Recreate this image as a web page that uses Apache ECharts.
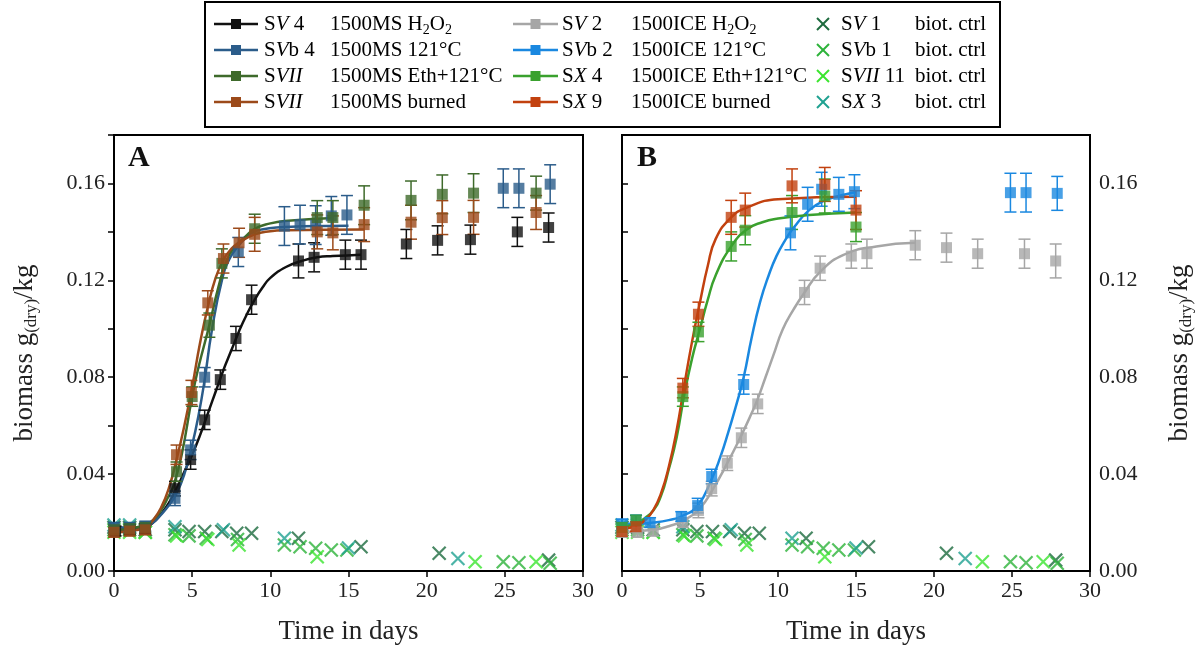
<!DOCTYPE html>
<html>
<head>
<meta charset="utf-8">
<title>biomass growth</title>
<script src="https://cdn.jsdelivr.net/npm/echarts@6/dist/echarts.min.js"></script>
<style>
  html, body { margin: 0; padding: 0; background: #fff; }
  #main { width: 1201px; height: 645px; }
</style>
</head>
<body>
<div id="main"></div>
<script type="text/javascript">
var FONT = 'Liberation Serif';

// ---- panel A : 1500MS ----
var aBlackDays = [0.1, 1, 2, 3.9, 4.9, 5.8, 6.8, 7.8, 8.8, 11.8, 12.8, 14.8, 15.8, 18.7, 20.7, 22.8, 25.8, 27.8];
var aBlackVals = [0.0165, 0.017, 0.0175, 0.034, 0.046, 0.0624, 0.079, 0.096, 0.112, 0.128, 0.1295, 0.1306, 0.1306, 0.135, 0.1365, 0.1368, 0.140, 0.1418];
var aBlackErr  = [0.002, 0.002, 0.002, 0.003, 0.004, 0.004, 0.004, 0.005, 0.006, 0.007, 0.006, 0.006, 0.006, 0.006, 0.006, 0.006, 0.006, 0.006];
var aBlackFitX = [0, 1, 2, 2.5, 3, 3.5, 4, 4.5, 5, 5.5, 6, 6.5, 7, 7.5, 8, 8.5, 9, 9.5, 10, 11, 12, 13, 14, 15.8];
var aBlackFitY = [0.017, 0.0172, 0.018, 0.020, 0.0235, 0.028, 0.034, 0.041, 0.048, 0.056, 0.065, 0.074, 0.083, 0.091, 0.099, 0.106, 0.112, 0.117, 0.121, 0.1255, 0.128, 0.1295, 0.130, 0.1306];

var aBlueDays = [0, 1, 2, 3.9, 4.9, 5.8, 7.95, 10.9, 11.9, 12.9, 13.9, 14.9, 24.9, 25.9, 27.9];
var aBlueVals = [0.018, 0.018, 0.0185, 0.030, 0.050, 0.080, 0.1317, 0.1424, 0.143, 0.1428, 0.1466, 0.147, 0.158, 0.158, 0.1597];
var aBlueErr  = [0.002, 0.002, 0.002, 0.003, 0.004, 0.004, 0.006, 0.008, 0.008, 0.008, 0.008, 0.008, 0.008, 0.008, 0.008];
var aBlueFitX = [0, 1, 2, 2.5, 3, 3.5, 4, 4.5, 5, 5.4, 5.8, 6.25, 6.9, 7.4, 8, 8.7, 9.45, 10.9, 12, 15];
var aBlueFitY = [0.018, 0.018, 0.0185, 0.020, 0.0232, 0.027, 0.032, 0.040, 0.052, 0.064, 0.079, 0.099, 0.120, 0.129, 0.1345, 0.139, 0.141, 0.142, 0.1423, 0.1425];

var aGreenDays = [0, 1, 2, 4, 5.0, 6.1, 6.9, 9.0, 13.0, 14.0, 16.0, 19.0, 21.0, 23.0, 27.0];
var aGreenVals = [0.017, 0.0175, 0.018, 0.041, 0.072, 0.1015, 0.127, 0.1413, 0.1459, 0.1459, 0.151, 0.153, 0.1555, 0.156, 0.156];
var aGreenErr  = [0.002, 0.002, 0.002, 0.004, 0.004, 0.005, 0.006, 0.006, 0.007, 0.007, 0.008, 0.008, 0.008, 0.008, 0.007];
var aGreenFitX = [0, 1, 2, 2.5, 3, 3.5, 3.8, 4.33, 5, 5.4, 6.1, 6.67, 7.2, 7.74, 8.4, 9, 10, 10.9, 14];
var aGreenFitY = [0.017, 0.0175, 0.019, 0.021, 0.025, 0.031, 0.035, 0.048, 0.072, 0.084, 0.1015, 0.117, 0.128, 0.134, 0.138, 0.1413, 0.1435, 0.1445, 0.1457];

var aBrownDays = [0, 1, 2, 4, 4.95, 6.0, 7.0, 8.0, 9.0, 13.0, 14.0, 16.0, 19.0, 21.0, 23.0, 27.0];
var aBrownVals = [0.016, 0.0165, 0.017, 0.048, 0.0737, 0.1107, 0.129, 0.1355, 0.139, 0.140, 0.1396, 0.143, 0.144, 0.1459, 0.146, 0.148];
var aBrownErr  = [0.002, 0.002, 0.002, 0.004, 0.005, 0.005, 0.006, 0.006, 0.007, 0.007, 0.007, 0.007, 0.007, 0.007, 0.007, 0.007];
var aBrownFitX = [0, 1, 2, 2.5, 3, 3.5, 4, 4.5, 5, 5.5, 6, 6.5, 7, 7.5, 8, 9, 10, 11, 16];
var aBrownFitY = [0.016, 0.0165, 0.018, 0.021, 0.026, 0.034, 0.046, 0.060, 0.076, 0.094, 0.109, 0.121, 0.1285, 0.133, 0.1355, 0.139, 0.1403, 0.1407, 0.141];

// ---- panel B : 1500ICE ----
var bGrayDays = [0, 1, 2, 3.9, 4.9, 5.75, 6.75, 7.65, 8.7, 11.7, 12.7, 14.7, 15.7, 18.8, 20.8, 22.8, 25.8, 27.8];
var bGrayVals = [0.016, 0.016, 0.0165, 0.020, 0.025, 0.034, 0.0445, 0.055, 0.069, 0.115, 0.125, 0.130, 0.131, 0.1345, 0.1335, 0.131, 0.131, 0.128];
var bGrayErr  = [0.002, 0.002, 0.002, 0.002, 0.003, 0.003, 0.003, 0.004, 0.004, 0.005, 0.005, 0.005, 0.006, 0.006, 0.006, 0.006, 0.006, 0.007];
var bGrayFitX = [0, 2, 3, 4, 5, 5.75, 6.75, 7.65, 8.3, 8.7, 9.2, 9.7, 10.3, 11, 11.7, 12.7, 14.2, 16.3, 18.8];
var bGrayFitY = [0.016, 0.017, 0.0185, 0.021, 0.026, 0.033, 0.0445, 0.056, 0.065, 0.071, 0.080, 0.089, 0.0997, 0.108, 0.115, 0.1235, 0.1305, 0.134, 0.1355];

var bBlueDays = [0, 0.9, 1.8, 3.8, 4.85, 5.75, 7.8, 10.8, 11.9, 12.8, 13.9, 14.9, 24.9, 25.9, 27.9];
var bBlueVals = [0.0194, 0.021, 0.020, 0.0225, 0.027, 0.039, 0.077, 0.1396, 0.1514, 0.1576, 0.1555, 0.1566, 0.1562, 0.1562, 0.1559];
var bBlueErr  = [0.002, 0.002, 0.002, 0.002, 0.003, 0.003, 0.004, 0.007, 0.007, 0.007, 0.007, 0.007, 0.008, 0.008, 0.007];
var bBlueFitX = [0, 1, 2, 3, 3.8, 4.85, 5.75, 6.3, 6.8, 7.3, 7.8, 8.3, 8.85, 9.4, 9.9, 10.5, 11, 12, 13, 14, 15];
var bBlueFitY = [0.0195, 0.0195, 0.020, 0.021, 0.0225, 0.027, 0.038, 0.047, 0.057, 0.068, 0.080, 0.096, 0.111, 0.122, 0.130, 0.137, 0.1417, 0.149, 0.153, 0.155, 0.1565];

var bGreenDays = [0, 0.9, 3.9, 4.9, 7.0, 7.9, 10.9, 13.0, 15.0];
var bGreenVals = [0.018, 0.021, 0.072, 0.0987, 0.134, 0.1407, 0.148, 0.1548, 0.142];
var bGreenErr  = [0.002, 0.002, 0.004, 0.004, 0.006, 0.006, 0.007, 0.007, 0.006];
var bGreenFitX = [0, 1, 1.5, 2, 2.5, 3, 3.5, 4, 4.5, 5, 5.5, 6, 7, 8, 9, 10, 12, 15];
var bGreenFitY = [0.018, 0.020, 0.022, 0.025, 0.031, 0.042, 0.055, 0.073, 0.088, 0.100, 0.112, 0.122, 0.134, 0.141, 0.144, 0.1455, 0.147, 0.148];

var bRedDays = [0, 0.9, 3.9, 4.9, 7.0, 7.9, 10.9, 13.0, 15.0];
var bRedVals = [0.0163, 0.0183, 0.0755, 0.106, 0.146, 0.149, 0.159, 0.1596, 0.149];
var bRedErr  = [0.002, 0.002, 0.004, 0.005, 0.007, 0.007, 0.007, 0.007, 0.008];
var bRedFitX = [0, 1, 1.5, 2, 2.5, 3, 3.5, 4, 4.5, 5, 5.5, 6, 7, 8, 10, 15];
var bRedFitY = [0.017, 0.019, 0.021, 0.025, 0.032, 0.043, 0.058, 0.077, 0.095, 0.111, 0.126, 0.137, 0.146, 0.150, 0.1535, 0.1545];

// ---- biotic controls (shown in both panels) ----
var ctrlSV1Days = [0, 1, 2, 3.9, 4.8, 5.8, 6.9, 7.85, 8.8, 11.8, 15.8, 20.8, 27.8];
var ctrlSV1Vals = [0.018, 0.018, 0.017, 0.017, 0.0163, 0.0163, 0.0163, 0.0156, 0.0156, 0.0135, 0.010, 0.0073, 0.0045];
var ctrlSVb1Days = [0, 1, 2, 3.9, 4.8, 5.9, 7.9, 10.9, 11.9, 12.9, 13.9, 14.9, 24.9, 25.9, 27.9];
var ctrlSVb1Vals = [0.017, 0.017, 0.016, 0.015, 0.0145, 0.0135, 0.013, 0.0107, 0.010, 0.0094, 0.0087, 0.0087, 0.0038, 0.0034, 0.0032];
var ctrlSVII11Days = [0, 1, 2, 4.0, 6.0, 8.0, 13.0, 23.1, 27.0];
var ctrlSVII11Vals = [0.016, 0.016, 0.016, 0.0145, 0.013, 0.0107, 0.0059, 0.0038, 0.0038];
var ctrlSX3Days = [0, 1, 3.9, 7.0, 10.9, 15.0, 22.0];
var ctrlSX3Vals = [0.019, 0.019, 0.0183, 0.017, 0.0135, 0.0095, 0.0052];

var xTicks = [0, 5, 10, 15, 20, 25, 30];
var yTicks = [0.00, 0.04, 0.08, 0.12, 0.16];

var C = {
  black: '#111111', blueA: '#2b5c8a', greenA: '#3e6a2b', brownA: '#9c4a1a',
  gray: '#a6a6a6', blueB: '#1a88e0', greenB: '#3aa12e', redB: '#c2410f',
  sv1: '#1d6b3e', svb1: '#2db33a', svii11: '#3be52f', sx3: '#1fa191'
};

function zip(a, b) { return a.map(function (v, i) { return [v, b[i]]; }); }
function zip3(a, b, c) { return a.map(function (v, i) { return [v, b[i], c[i]]; }); }

function errRender(params, api) {
  var x = api.value(0), y = api.value(1), e = api.value(2);
  var t = api.coord([x, y + e]), b = api.coord([x, y - e]);
  var w = 6, st = { stroke: api.visual('color'), lineWidth: 1.5 };
  return { type: 'group', children: [
    { type: 'line', shape: { x1: t[0], y1: t[1], x2: b[0], y2: b[1] }, style: st },
    { type: 'line', shape: { x1: t[0] - w, y1: t[1], x2: t[0] + w, y2: t[1] }, style: st },
    { type: 'line', shape: { x1: b[0] - w, y1: b[1], x2: b[0] + w, y2: b[1] }, style: st }
  ]};
}

function growth(name, color, gi, days, vals, errs, fx, fy) {
  return [
    { type: 'line', name: name, xAxisIndex: gi, yAxisIndex: gi, data: zip(fx, fy),
      smooth: 0.5, showSymbol: false, z: 2,
      lineStyle: { color: color, width: 2.5 }, itemStyle: { color: color } },
    { type: 'custom', xAxisIndex: gi, yAxisIndex: gi, data: zip3(days, vals, errs),
      renderItem: errRender, itemStyle: { color: color, opacity: 0.75 }, z: 3, silent: true },
    { type: 'scatter', name: name, xAxisIndex: gi, yAxisIndex: gi, data: zip(days, vals),
      symbol: 'rect', symbolSize: 11, itemStyle: { color: color }, z: 4 }
  ];
}

var CROSS = 'path://M0,0L10,10M10,0L0,10';
function ctrl(name, color, gi, days, vals) {
  return { type: 'scatter', name: name, xAxisIndex: gi, yAxisIndex: gi, data: zip(days, vals),
    symbol: CROSS, symbolSize: 13, z: 1,
    itemStyle: { color: 'rgba(0,0,0,0)', borderColor: color, borderWidth: 2.2 } };
}

var series = [].concat(
  ctrl('SV1', C.sv1, 0, ctrlSV1Days, ctrlSV1Vals),
  ctrl('SVb1', C.svb1, 0, ctrlSVb1Days, ctrlSVb1Vals),
  ctrl('SVII11', C.svii11, 0, ctrlSVII11Days, ctrlSVII11Vals),
  ctrl('SX3', C.sx3, 0, ctrlSX3Days, ctrlSX3Vals),
  ctrl('SV1', C.sv1, 1, ctrlSV1Days, ctrlSV1Vals),
  ctrl('SVb1', C.svb1, 1, ctrlSVb1Days, ctrlSVb1Vals),
  ctrl('SVII11', C.svii11, 1, ctrlSVII11Days, ctrlSVII11Vals),
  ctrl('SX3', C.sx3, 1, ctrlSX3Days, ctrlSX3Vals),
  growth('SV4 MS H2O2', C.black, 0, aBlackDays, aBlackVals, aBlackErr, aBlackFitX, aBlackFitY),
  growth('SVb4 MS 121', C.blueA, 0, aBlueDays, aBlueVals, aBlueErr, aBlueFitX, aBlueFitY),
  growth('SVII MS Eth', C.greenA, 0, aGreenDays, aGreenVals, aGreenErr, aGreenFitX, aGreenFitY),
  growth('SVII MS burned', C.brownA, 0, aBrownDays, aBrownVals, aBrownErr, aBrownFitX, aBrownFitY),
  growth('SV2 ICE H2O2', C.gray, 1, bGrayDays, bGrayVals, bGrayErr, bGrayFitX, bGrayFitY),
  growth('SVb2 ICE 121', C.blueB, 1, bBlueDays, bBlueVals, bBlueErr, bBlueFitX, bBlueFitY),
  growth('SX4 ICE Eth', C.greenB, 1, bGreenDays, bGreenVals, bGreenErr, bGreenFitX, bGreenFitY),
  growth('SX9 ICE burned', C.redB, 1, bRedDays, bRedVals, bRedErr, bRedFitX, bRedFitY)
);

var axisLine = { show: true, lineStyle: { color: '#000', width: 2 } };
var axisTick = { show: true, inside: false, length: 6, lineStyle: { color: '#000', width: 1.5 } };
var yName = 'biomass g{sub|(dry)}/kg';
var yNameStyle = { fontFamily: FONT, fontSize: 27, color: '#222',
  rich: { sub: { fontFamily: FONT, fontSize: 17, color: '#222', padding: [14, 0, 0, 0] } } };

function xAxisFor(gi) {
  return { type: 'value', gridIndex: gi, min: xTicks[0], max: xTicks[xTicks.length - 1], interval: 5,
    name: 'Time in days', nameLocation: 'middle', nameGap: 47,
    nameTextStyle: { fontFamily: FONT, fontSize: 27, color: '#222' },
    axisLine: axisLine, axisTick: axisTick, splitLine: { show: false },
    axisLabel: { fontFamily: FONT, fontSize: 22, color: '#222', margin: 9 } };
}
function yAxisFor(gi, pos) {
  return { type: 'value', gridIndex: gi, position: pos, min: 0, max: 0.18, interval: 0.02,
    name: yName, nameLocation: 'middle', nameGap: 74, nameRotate: 90, nameTextStyle: yNameStyle,
    axisLine: axisLine, axisTick: axisTick, splitLine: { show: false },
    axisLabel: { fontFamily: FONT, fontSize: 22, color: '#222', margin: 9,
      formatter: function (v) {
        for (var i = 0; i < yTicks.length; i++) { if (Math.abs(v - yTicks[i]) < 1e-6) return yTicks[i].toFixed(2); }
        return '';
      } } };
}

// ---- legend drawn as graphics ----
var legendRows = [24, 50, 76, 102];
var legendCols = [
  { line: [214, 258], name: 264, desc: 330 },
  { line: [513, 558], name: 562, desc: 631 },
  { cross: 823, name: 841, desc: 915 }
];
var legendEntries = [
  [0, 0, C.black,  '{n|S}{i|V}{n| 4}', '{n|1500MS H}{s|2}{n|O}{s|2}'],
  [0, 1, C.blueA,  '{n|S}{i|V}{n|b 4}', '{n|1500MS 121°C}'],
  [0, 2, C.greenA, '{n|S}{i|VII}', '{n|1500MS Eth+121°C}'],
  [0, 3, C.brownA, '{n|S}{i|VII}', '{n|1500MS burned}'],
  [1, 0, C.gray,   '{n|S}{i|V}{n| 2}', '{n|1500ICE H}{s|2}{n|O}{s|2}'],
  [1, 1, C.blueB,  '{n|S}{i|V}{n|b 2}', '{n|1500ICE 121°C}'],
  [1, 2, C.greenB, '{n|S}{i|X}{n| 4}', '{n|1500ICE Eth+121°C}'],
  [1, 3, C.redB,   '{n|S}{i|X}{n| 9}', '{n|1500ICE burned}'],
  [2, 0, C.sv1,    '{n|S}{i|V}{n| 1}', '{n|biot. ctrl}'],
  [2, 1, C.svb1,   '{n|S}{i|V}{n|b 1}', '{n|biot. ctrl}'],
  [2, 2, C.svii11, '{n|S}{i|VII}{n| 11}', '{n|biot. ctrl}'],
  [2, 3, C.sx3,    '{n|S}{i|X}{n| 3}', '{n|biot. ctrl}']
];
var rich = {
  n: { fontFamily: FONT, fontSize: 21, color: '#111' },
  i: { fontFamily: FONT, fontSize: 21, fontStyle: 'italic', color: '#111' },
  s: { fontFamily: FONT, fontSize: 14, color: '#111', padding: [12, 0, 0, 0] }
};
var graphics = [
  { type: 'rect', shape: { x: 205, y: 2, width: 795, height: 125 },
    style: { fill: '#fff', stroke: '#000', lineWidth: 2 }, z: 10 },
  { type: 'text', left: 128, top: 143, style: { text: 'A', font: 'bold 30px "Liberation Serif"', fill: '#111' }, z: 10 },
  { type: 'text', left: 637, top: 143, style: { text: 'B', font: 'bold 30px "Liberation Serif"', fill: '#111' }, z: 10 }
];
legendEntries.forEach(function (e) {
  var col = legendCols[e[0]], y = legendRows[e[1]], color = e[2];
  if (col.line) {
    var mid = (col.line[0] + col.line[1]) / 2;
    graphics.push({ type: 'line', shape: { x1: col.line[0], y1: y, x2: col.line[1], y2: y },
      style: { stroke: color, lineWidth: 2.5 }, z: 11 });
    graphics.push({ type: 'rect', shape: { x: mid - 5, y: y - 5, width: 10, height: 10 },
      style: { fill: color }, z: 11 });
  } else {
    var cx = col.cross, h = 6;
    graphics.push({ type: 'polyline', shape: { points: [[cx - h, y - h], [cx + h, y + h]] },
      style: { stroke: color, lineWidth: 2 }, z: 11 });
    graphics.push({ type: 'polyline', shape: { points: [[cx + h, y - h], [cx - h, y + h]] },
      style: { stroke: color, lineWidth: 2 }, z: 11 });
  }
  graphics.push({ type: 'text', x: col.name, y: y, style: { text: e[3], rich: rich, verticalAlign: 'middle' }, z: 11 });
  graphics.push({ type: 'text', x: col.desc, y: y, style: { text: e[4], rich: rich, verticalAlign: 'middle' }, z: 11 });
});

var chart = echarts.init(document.getElementById('main'));
chart.setOption({
  animation: false,
  backgroundColor: '#fff',
  grid: [
    { left: 114, top: 135, width: 469, height: 436, show: true, borderColor: '#000', borderWidth: 2, outerBoundsMode: 'none' },
    { left: 622, top: 135, width: 468, height: 436, show: true, borderColor: '#000', borderWidth: 2, outerBoundsMode: 'none' }
  ],
  xAxis: [xAxisFor(0), xAxisFor(1)],
  yAxis: [yAxisFor(0, 'left'), yAxisFor(1, 'right')],
  graphic: graphics,
  series: series
});
</script>
</body>
</html>
